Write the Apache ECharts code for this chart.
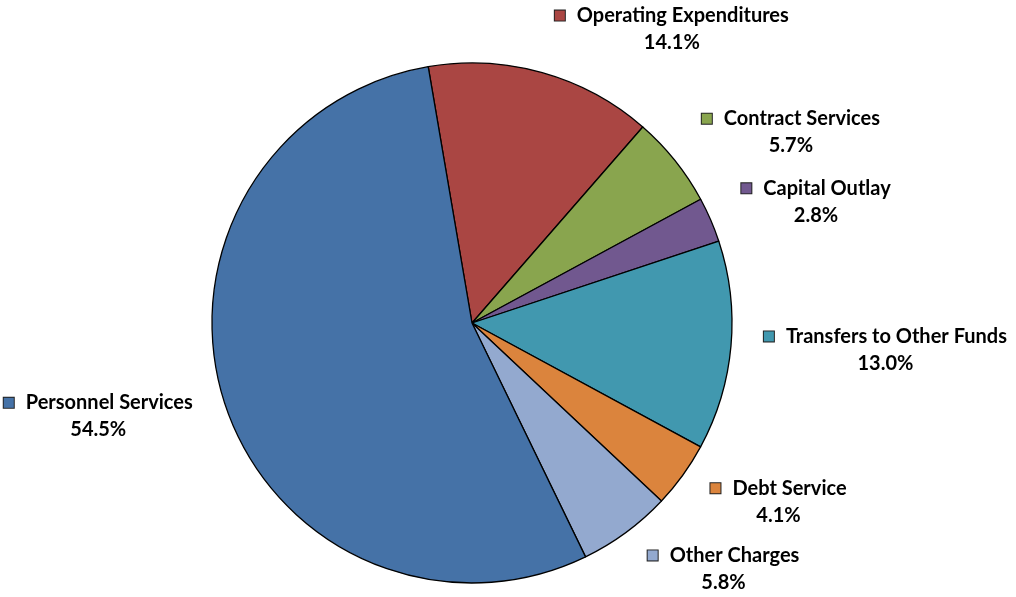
<!DOCTYPE html>
<html>
<head>
<meta charset="utf-8">
<script src="https://cdn.jsdelivr.net/npm/echarts@6/dist/echarts.min.js"></script>
<style>
  html, body { margin: 0; padding: 0; background: #fff; }
  #chart { width: 1016px; height: 597px; }
</style>
</head>
<body>
<div id="chart"></div>
<script>
  // slices in clockwise order, starting just left of 12 o'clock
  var categories = ['Operating Expenditures', 'Contract Services', 'Capital Outlay', 'Transfers to Other Funds', 'Debt Service', 'Other Charges', 'Personnel Services'];
  var percents = [14.1, 5.7, 2.8, 13.0, 4.1, 5.8, 54.5];
  var colors = ['#AA4643', '#89A54E', '#71588F', '#4198AF', '#DB843D', '#93A9CF', '#4572A7'];

  var cx = 472, cy = 323;
  var chart = echarts.init(document.getElementById('chart'));

  var data = categories.map(function (name, i) {
    return {
      name: name,
      value: percents[i],
      itemStyle: { color: colors[i] },
      label: {
        rich: {
          m: { width: 10, height: 10, backgroundColor: colors[i], borderColor: '#222', borderWidth: 1, align: 'center' }
        }
      }
    };
  });

  var option = {
    backgroundColor: '#fff',
    animation: false,
    series: [{
      type: 'pie',
      center: [cx, cy],
      radius: 260,
      startAngle: 99.7,
      clockwise: true,
      avoidLabelOverlap: false,
      data: data,
      itemStyle: { borderColor: '#000', borderWidth: 1.3 },
      label: {
        show: true,
        position: 'outside',
        alignTo: 'none',
        color: '#000',
        formatter: function (p) {
          return '{m|}{s|}{t|' + p.name + '}\n{t|' + p.value.toFixed(1) + '%}';
        },
        rich: {
          s: { width: 12, align: 'center' },
          t: { fontFamily: 'Lato', fontWeight: 'bold', fontSize: 20, color: '#000', lineHeight: 27, align: 'center' }
        }
      },
      // push labels a bit further away vertically, like Excel's outside-end labels
      labelLayout: function (p) {
        var r = p.labelRect;
        var my = r.y + r.height / 2;
        return { dy: (my - cy) * 0.06 };
      },
      labelLine: { show: false, length: 28, length2: 0 },
      emphasis: { disabled: true }
    }]
  };
  chart.setOption(option);
</script>
</body>
</html>
